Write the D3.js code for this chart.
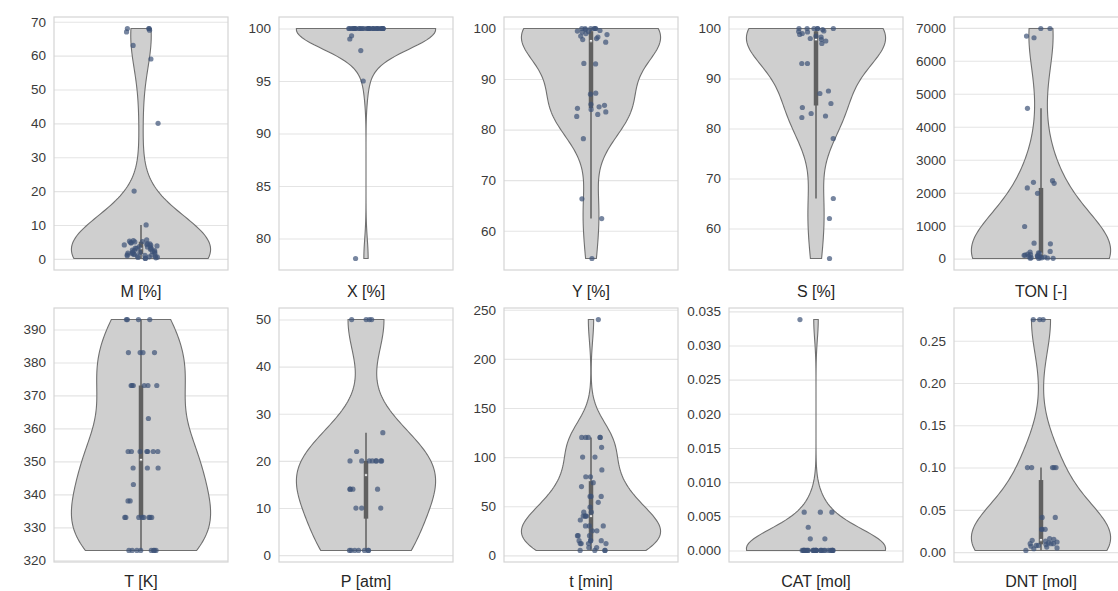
<!DOCTYPE html>
<html><head><meta charset="utf-8">
<script src="https://cdn.jsdelivr.net/npm/d3@7"></script>
<style>
body{margin:0;background:#fff}
text{font-family:"Liberation Sans",Arial,sans-serif}
</style>
</head><body>
<svg id="chart" width="1118" height="591"></svg>
<script>
// ---------------- data ----------------
const labels = ["M [%]","X [%]","Y [%]","S [%]","TON [-]","T [K]","P [atm]","t [min]","CAT [mol]","DNT [mol]"];

const M = [68,68,68,67.5,67,63,59,40,20,10,
  0.1,0.2,0.3,0.4,0.5,0.6,0.7,0.8,0.9,1.0,1.1,1.2,1.3,1.4,1.5,1.6,1.7,1.8,1.9,2.0,
  2.1,2.2,2.4,2.5,2.6,2.8,3.0,3.1,3.2,3.4,3.5,3.6,3.8,4.0,4.1,4.2,4.4,4.5,4.7,4.8,
  5.0,5.1,5.2,5.4,5.6];
const X = [100,100,100,100,100,100,100,100,100,100,100,100,100,100,100,
  100,100,100,100,100,100,100,100,100,100,100,100,100,100,100,
  99.3,99.0,97.9,95.0,78.1];
const Y = [100,100,100,100,100,100,99.8,99.6,99.5,99.4,99.3,99,98.8,98.5,98.3,98,97.8,97.3,
  93.1,93,87.2,87,85,84.8,84.5,84.2,84,83.5,83,82.6,78.2,66.3,62.4,54.5];
const S = [100,100,100,100,100,100,99.8,99.5,99.4,99.3,99,98.8,98.5,98.3,98,97.8,97.5,97,
  93,93,87.5,87,85,84.2,83,82.5,82.2,78,66,62,54];
const TON = [5,10,15,20,25,30,40,50,60,70,80,90,100,110,120,140,160,180,200,220,
  450,470,975,1980,2145,2285,2315,2365,4560,6700,6750,6980,6980];
const T = [323,323,323,323,323,323,323,323, 333,333,333,333,333,333,333,333,
  338,338, 343, 348,348,348, 353,353,353,353,353,353,353, 363, 373,373,373,373,373,373,
  383,383,383,383, 393,393,393,393];
const P = [1,1,1,1,1,1,1, 10,10,10, 14,14,14,14, 20,20,20,20,20,20,20,20, 22, 26, 50,50,50,50];
const tmin = [240, 120,120,120,120,120, 110, 100,100, 87, 80,80, 74, 70, 60,60,60, 54, 49, 44,44,
  40,40,40,40, 36, 30,30,30, 25,25, 20,20,20, 15,15,15,15, 12,12,12,12, 8,8, 5,5,5,5];
const CAT = [0,0,0,0,0,0,0,0,0,0,0,0,0,0,0,0,0,0,0,0,0,0,0,0,0,0,0,0,
  0.0017,0.0017,0.0034,0.0056,0.0056,0.0056,0.0338];
const DNT = [0.275,0.275,0.275, 0.1,0.1,0.1,0.1,0.1, 0.041,0.041, 0.027,0.027,0.027,
  0.002,0.004,0.005,0.006,0.007,0.008,0.008,0.009,0.01,0.01,0.01,0.011,0.012,0.013,0.014,0.015,0.016];

const ticksM = [0,10,20,30,40,50,60,70];
const ticksX = [80,85,90,95,100];
const ticksY = [60,70,80,90,100];
const ticksS = [60,70,80,90,100];
const ticksTON = [0,1000,2000,3000,4000,5000,6000,7000];
const ticksT = [320,330,340,350,360,370,380,390];
const ticksP = [0,10,20,30,40,50];
const ticksTmin = [0,50,100,150,200,250];
const ticksCAT = [0,0.005,0.010,0.015,0.020,0.025,0.030,0.035];
const ticksDNT = [0,0.05,0.10,0.15,0.20,0.25];

const seriesList = [M,X,Y,S,TON,T,P,tmin,CAT,DNT];
const tickList = [ticksM,ticksX,ticksY,ticksS,ticksTON,ticksT,ticksP,ticksTmin,ticksCAT,ticksDNT];
const fmtList = ["d","d","d","d","d","d","d","d",".3f",".2f"];

// ---------------- layout ----------------
const svg = d3.select("#chart");
const left0 = 54, colStep = 225, fw = 174;
const rows = [{top:17,bottom:270,labelY:297},{top:308,bottom:562,labelY:587}];
const fill = "#cfcfcf", edge = "#707070", boxCol = "#606060", ptCol = "#3d5378";

function kde(values, grid){
  const n = values.length;
  const sd = d3.deviation(values);
  const bw = sd * Math.pow(n, -0.2);
  return grid.map(g => {
    let s = 0;
    for (const v of values){ const z = (g - v)/bw; s += Math.exp(-0.5*z*z); }
    return [g, s/(n*bw*Math.sqrt(2*Math.PI))];
  });
}

seriesList.forEach((vals, i) => {
  const r = rows[Math.floor(i/5)], c = i % 5;
  const x0 = left0 + c*colStep, cx = x0 + fw/2;
  const ext = d3.extent(vals), pad = (ext[1]-ext[0])*0.05;
  const y = d3.scaleLinear().domain([ext[0]-pad, ext[1]+pad]).range([r.bottom, r.top]);
  const g = svg.append("g");

  // axis + grid
  const ax = g.append("g").attr("transform", `translate(${x0},0)`)
    .call(d3.axisLeft(y).tickValues(tickList[i]).tickFormat(d3.format(fmtList[i])).tickSize(-fw).tickPadding(8));
  ax.select(".domain").remove();
  ax.selectAll(".tick line").attr("stroke", "#e4e4e4").attr("stroke-width", 1.1);
  ax.selectAll(".tick text").attr("fill", "#3a3a3a").style("font-size", "13.5px");

  // frame
  g.append("rect").attr("x", x0).attr("y", r.top).attr("width", fw).attr("height", r.bottom - r.top)
    .attr("fill", "none").attr("stroke", "#d4d4d4").attr("stroke-width", 1.2);

  // violin
  const grid = d3.range(100).map(k => ext[0] + (ext[1]-ext[0])*k/99);
  const dens = kde(vals, grid);
  const w = d3.scaleLinear().domain([0, d3.max(dens, d => d[1])]).range([0, 0.4*fw]);
  const area = d3.area().y(d => y(d[0])).x0(d => cx - w(d[1])).x1(d => cx + w(d[1])).curve(d3.curveLinear);
  g.append("path").datum(dens).attr("d", area).attr("fill", fill).attr("stroke", edge).attr("stroke-width", 1.1);

  // inner box
  const sorted = vals.slice().sort(d3.ascending);
  const q1 = d3.quantileSorted(sorted, 0.25), q3 = d3.quantileSorted(sorted, 0.75), med = d3.quantileSorted(sorted, 0.5);
  const lim = 1.5*(q3-q1);
  const lo = d3.min(sorted.filter(v => v >= q1 - lim)), hi = d3.max(sorted.filter(v => v <= q3 + lim));
  g.append("line").attr("x1", cx).attr("x2", cx).attr("y1", y(lo)).attr("y2", y(hi))
    .attr("stroke", boxCol).attr("stroke-width", 1.5);
  g.append("line").attr("x1", cx).attr("x2", cx).attr("y1", y(q1)).attr("y2", y(q3))
    .attr("stroke", boxCol).attr("stroke-width", 4.5);
  g.append("circle").attr("cx", cx).attr("cy", y(med)).attr("r", 1.5).attr("fill", "#fff").attr("stroke", boxCol).attr("stroke-width", 0.8);

  // strip points (deterministic jitter)
  const jit = d3.randomUniform.source(d3.randomLcg(0.1 + i*0.077))(-0.1, 0.1);
  g.selectAll("circle.pt").data(vals).join("circle").attr("class", "pt")
    .attr("cx", () => cx + jit()*fw).attr("cy", d => y(d)).attr("r", 2.6)
    .attr("fill", ptCol).attr("fill-opacity", 0.7);

  // label
  g.append("text").attr("x", cx).attr("y", r.labelY).attr("text-anchor", "middle")
    .attr("fill", "#262626").style("font-size", "16px").text(labels[i]);
});
</script>
</body></html>
